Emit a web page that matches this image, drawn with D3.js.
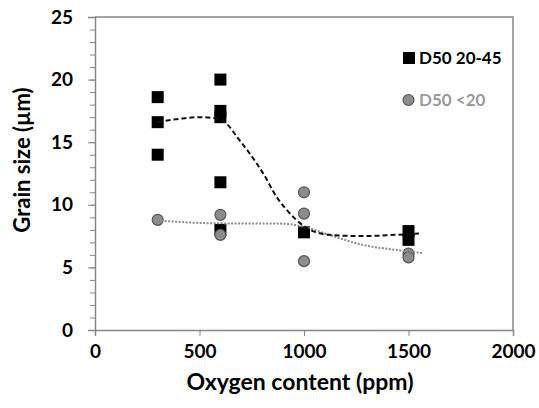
<!DOCTYPE html>
<html>
<head>
<meta charset="utf-8">
<script src="https://cdn.jsdelivr.net/npm/d3@7"></script>
<style>
  body { margin: 0; background: #fff; }
  text { font-family: Lato, "Open Sans", sans-serif; font-weight: bold; }
</style>
</head>
<body>
<div id="chart"></div>
<script>
// values
var xTicks = [0, 500, 1000, 1500, 2000];
var yTicks = [0, 5, 10, 15, 20, 25];

var coarseX = [300, 300, 300, 600, 600, 600, 600, 600, 1000, 1500, 1500];
var coarseY = [18.6, 16.6, 14.0, 20.0, 17.5, 17.0, 11.8, 8.0, 7.8, 7.9, 7.2];

var fineX = [300, 600, 600, 1000, 1000, 1000, 1500, 1500];
var fineY = [8.8, 9.2, 7.6, 11.0, 9.3, 5.5, 6.1, 5.8];

// trendlines
var coarseTrendX = [300, 420, 500, 580, 640, 680, 740, 805, 870, 917, 1000, 1120, 1280, 1440, 1550];
var coarseTrendY = [16.6, 16.9, 17.0, 16.9, 16.3, 15.4, 14.1, 12.5, 10.6, 9.6, 8.3, 7.6, 7.5, 7.6, 7.7];

var fineTrendX = [300, 580, 880, 1000, 1120, 1280, 1440, 1565];
var fineTrendY = [8.75, 8.52, 8.5, 8.25, 7.6, 6.8, 6.4, 6.15];

var legendNames = ["D50 20-45", "D50 <20"];

const W = 539, H = 408;
const margin = {top: 17, right: 26, bottom: 78, left: 95},
    width = W - margin.left - margin.right,
    height = H - margin.top - margin.bottom;

var svg = d3.select("#chart").append("svg")
    .attr("width", W)
    .attr("height", H);

var g = svg.append("g")
    .attr("transform", `translate(${margin.left},${margin.top})`);

var x = d3.scaleLinear().domain([0, 2000]).range([0, width]);
var y = d3.scaleLinear().domain([0, 25]).range([height, 0]);

var axisColor = "#868686";

// plot frame (top and right)
g.append("path")
    .attr("d", `M0,0H${width}V${height}`)
    .attr("fill", "none")
    .attr("stroke", axisColor)
    .attr("stroke-width", 1.5);

// y minor ticks
g.append("g")
    .call(d3.axisLeft(y).tickValues(d3.range(0, 26, 1)).tickSize(5).tickFormat(""))
    .call(a => a.selectAll("line").attr("stroke", axisColor))
    .call(a => a.select(".domain").remove());

// y axis
g.append("g")
    .call(d3.axisLeft(y).tickValues(yTicks).tickSize(7).tickPadding(15))
    .call(a => a.select(".domain").attr("stroke", axisColor).attr("stroke-width", 1.5))
    .call(a => a.selectAll("line").attr("stroke", axisColor))
    .call(a => a.selectAll("text").attr("font-size", 19).attr("fill", "#000")
        .style("font-family", "Lato, sans-serif").style("font-weight", "bold"));

// x axis
g.append("g")
    .attr("transform", `translate(0,${height})`)
    .call(d3.axisBottom(x).tickValues(xTicks).tickSize(6).tickPadding(9).tickFormat(d3.format("d")))
    .call(a => a.select(".domain").attr("stroke", axisColor).attr("stroke-width", 1.5))
    .call(a => a.selectAll("line").attr("stroke", axisColor))
    .call(a => a.selectAll("text").attr("font-size", 19).attr("fill", "#000")
        .style("font-family", "Lato, sans-serif").style("font-weight", "bold"));

// axis titles
svg.append("text")
    .attr("x", 300)
    .attr("y", 390)
    .attr("text-anchor", "middle")
    .attr("font-size", 23)
    .text("Oxygen content (ppm)");

svg.append("text")
    .attr("transform", "translate(30,160) rotate(-90)")
    .attr("text-anchor", "middle")
    .attr("font-size", 22)
    .text("Grain size (\u00b5m)");

// squares
var coarse = coarseX.map((v, i) => [v, coarseY[i]]);
var fine = fineX.map((v, i) => [v, fineY[i]]);
var sq = 12;

g.selectAll(".sq")
    .data(coarse)
    .join("rect")
    .attr("class", "sq")
    .attr("x", d => x(d[0]) - sq / 2)
    .attr("y", d => y(d[1]) - sq / 2)
    .attr("width", sq)
    .attr("height", sq)
    .attr("fill", "#000");

g.selectAll(".dot")
    .data(fine)
    .join("circle")
    .attr("class", "dot")
    .attr("cx", d => x(d[0]))
    .attr("cy", d => y(d[1]))
    .attr("r", 5.5)
    .attr("fill", "#8c8c8c")
    .attr("stroke", "#555")
    .attr("stroke-width", 1.2);

// trendlines
var line = d3.line()
    .x(d => x(d[0]))
    .y(d => y(d[1]))
    .curve(d3.curveMonotoneX);

g.append("path")
    .datum(fineTrendX.map((v, i) => [v, fineTrendY[i]]))
    .attr("d", line)
    .attr("fill", "none")
    .attr("stroke", "#8a8a8a")
    .attr("stroke-width", 2)
    .attr("stroke-dasharray", "2,1.5");

g.append("path")
    .datum(coarseTrendX.map((v, i) => [v, coarseTrendY[i]]))
    .attr("d", line)
    .attr("fill", "none")
    .attr("stroke", "#111")
    .attr("stroke-width", 2)
    .attr("stroke-dasharray", "5,3");

// legend
var lg = svg.append("g").attr("transform", "translate(403,52)");
lg.append("rect")
    .attr("x", 0).attr("y", 0)
    .attr("width", 12).attr("height", 12)
    .attr("fill", "#000");
lg.append("text")
    .attr("x", 16).attr("y", 12)
    .attr("font-size", 17)
    .attr("fill", "#000")
    .text(legendNames[0]);
lg.append("circle")
    .attr("cx", 5.5).attr("cy", 48)
    .attr("r", 5.5)
    .attr("fill", "#8c8c8c")
    .attr("stroke", "#555")
    .attr("stroke-width", 1.2);
lg.append("text")
    .attr("x", 16).attr("y", 54)
    .attr("font-size", 17)
    .attr("fill", "#9a9a9a")
    .text(legendNames[1]);
</script>
</body>
</html>
